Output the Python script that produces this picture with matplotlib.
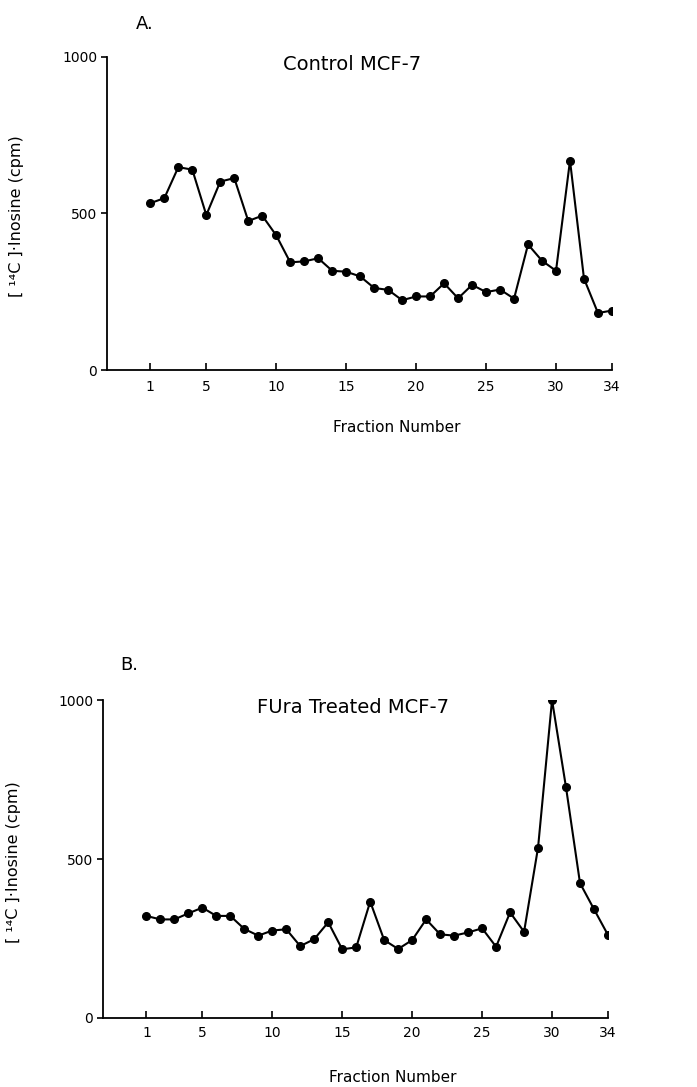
import matplotlib
matplotlib.use("Agg")
import matplotlib.pyplot as plt

# fraction numbers and counts
fractions = list(range(1, 35))
control_cpm = [533, 549, 648, 640, 495, 602, 613, 476, 493, 430,
               344, 347, 357, 317, 314, 299, 262, 256, 223, 235,
               235, 277, 229, 272, 249, 257, 228, 401, 349, 317,
               669, 292, 182, 190]
fura_cpm = [321, 310, 310, 329, 347, 321, 321, 280, 259, 275,
            279, 226, 248, 301, 216, 222, 366, 245, 217, 245,
            310, 263, 259, 269, 282, 224, 332, 271, 536, 1000,
            725, 424, 342, 261]
xticks = [1, 5, 10, 15, 20, 25, 30, 34]
yticks = [0, 500, 1000]

plt.rcParams['font.family'] = ['DejaVu Sans']

fig = plt.figure(figsize=(6.97, 10.87), dpi=100)

def panel(rect, y, title, title_x, letter, letter_pos, xpad, xlab_y, ylab_x):
    ax = fig.add_axes(rect)
    ax.plot(fractions, y, color='black', lw=1.5, marker='o', ms=5.5,
            mfc='black', mec='black')
    ax.set_xlim(-2.1, 34)
    ax.set_ylim(0, 1000)
    ax.spines['top'].set_visible(False)
    ax.spines['right'].set_visible(False)
    ax.spines['left'].set_linewidth(1.3)
    ax.spines['bottom'].set_linewidth(1.3)
    ax.set_xticks(xticks)
    ax.set_yticks(yticks)
    ax.tick_params(axis='x', direction='in', length=5, width=1.2,
                   labelsize=10, pad=xpad)
    ax.tick_params(axis='y', direction='out', length=4, width=1.2,
                   labelsize=10, pad=3)
    ax.set_xlabel('Fraction Number', fontsize=11)
    ax.xaxis.set_label_coords(0.574, xlab_y)
    ax.set_ylabel('[ ¹⁴C ]·Inosine (cpm)', fontsize=11.5)
    ax.yaxis.set_label_coords(ylab_x, 0.49)
    ax.text(title_x, 1.005, title, transform=ax.transAxes, ha='center',
            va='top', fontsize=14)
    fig.text(letter_pos[0], letter_pos[1], letter, fontsize=13,
             ha='left', va='center')
    return ax

panel([0.1535, 0.6596, 0.7245, 0.288], control_cpm, 'Control MCF-7', 0.485,
      'A.', (136 / 697, 1 - 24 / 1087), 7, -0.160, -0.164)
panel([0.1478, 0.0635, 0.7245, 0.2925], fura_cpm, 'FUra Treated MCF-7', 0.495,
      'B.', (120 / 697, 1 - 665 / 1087), 6, -0.164, -0.162)

fig.savefig('out.png', dpi=100)
